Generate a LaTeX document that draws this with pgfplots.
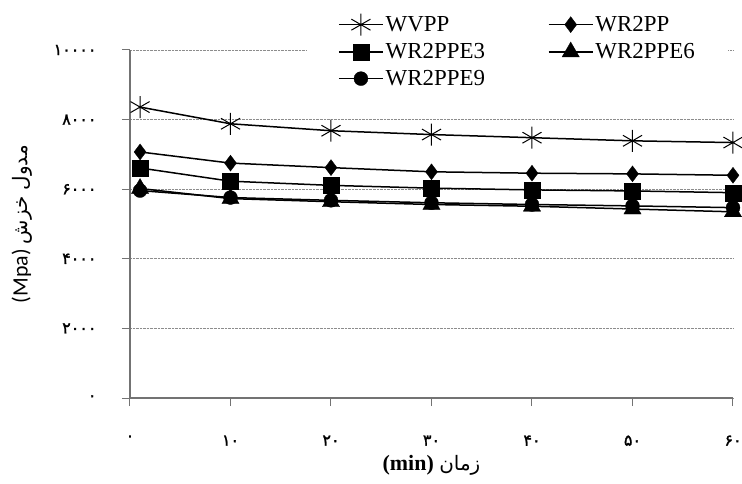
\documentclass[border=0pt]{standalone}
\usepackage{pgfplots}
\pgfplotsset{compat=1.18}
\usepackage{fontspec}
\setmainfont{Liberation Serif}
\newfontfamily\arabicfont[Script=Arabic]{DejaVu Sans}
\newfontfamily\digitfont[Script=Arabic,FakeBold=1.5]{DejaVu Sans}
\newfontfamily\labelfont{Carlito}
\TeXXeTstate=1
\begin{document}
\begin{tikzpicture}
\begin{axis}[
  at={(0,0)}, anchor=south west,
  scale only axis, width=603bp, height=348bp,
  xmin=0, xmax=60, ymin=0, ymax=10000,
  clip=false,
  axis x line=bottom, axis y line=left,
  axis line style={-, draw=black!55, line width=1.6bp},
  xtick={0,10,20,30,40,50,60},
  xticklabels={۰,۱۰,۲۰,۳۰,۴۰,۵۰,۶۰},
  ytick={0,2000,4000,6000,8000,10000},
  yticklabels={۰,۲۰۰۰,۴۰۰۰,۶۰۰۰,۸۰۰۰,۱۰۰۰۰},
  scaled y ticks=false,
  ticklabel style={font=\digitfont\fontsize{16}{18}\selectfont},
  xticklabel style={yshift=-26bp},
  yticklabel style={xshift=-22bp},
  tick align=outside, major tick length=8bp,
  tick style={draw=black!55, line width=1bp},
  ymajorgrids,
  grid style={densely dotted, black!45, line width=0.9bp},
  xlabel={{\bfseries (min)} {\arabicfont\fontsize{20}{22}\selectfont\beginR زمان\endR}},
  xlabel style={at={(axis description cs:0.5,-0.193)}, anchor=center, font=\fontsize{22}{24}\selectfont},
  ylabel={{\labelfont (Mpa)} {\arabicfont\fontsize{20}{22}\selectfont\beginR مدول خزش\endR}},
  ylabel style={at={(axis description cs:-0.179,0.5)}, anchor=center, font=\labelfont\fontsize{22}{24}\selectfont},
  legend columns=2,
  legend style={at={(axis description cs:0.2935,1.105)}, anchor=north west,
    draw=none, fill=white, inner xsep=31bp, inner ysep=0bp,
    font=\fontsize{23}{26}\selectfont, row sep=6bp,
    /tikz/every even column/.append style={column sep=61bp},
    cells={anchor=west}},
  legend image code/.code={\draw[mark repeat=2,mark phase=2,#1] plot coordinates {(0bp,0bp) (22bp,0bp) (44bp,0bp)};},
]
\addplot[black, line width=1.5bp, mark=asterisk, mark size=11bp, mark options={line width=1bp}]
  coordinates {(1,8360) (10,7880) (20,7680) (30,7570) (40,7480) (50,7390) (60,7340)};
\addlegendentry{WVPP}
\addplot[black, line width=1.5bp, mark=diamond*, mark size=8bp, mark options={line width=0.3bp}]
  coordinates {(1,7070) (10,6750) (20,6620) (30,6500) (40,6460) (50,6440) (60,6400)};
\addlegendentry{WR2PP}
\addplot[black, line width=1.5bp, mark=square*, mark size=8bp, mark options={line width=0.3bp}]
  coordinates {(1,6610) (10,6230) (20,6110) (30,6030) (40,5980) (50,5950) (60,5900)};
\addlegendentry{WR2PPE3}
\addplot[black, line width=1.5bp, mark=triangle*, mark size=10bp, mark options={line width=0.3bp}]
  coordinates {(1,6020) (10,5730) (20,5640) (30,5560) (40,5510) (50,5430) (60,5350)};
\addlegendentry{WR2PPE6}
\addplot[black, line width=1.5bp, mark=*, mark size=7bp, mark options={line width=0.3bp}]
  coordinates {(1,5960) (10,5760) (20,5680) (30,5610) (40,5560) (50,5520) (60,5470)};
\addlegendentry{WR2PPE9}
\end{axis}
\pgfresetboundingbox
\path[use as bounding box] (-130bp,-86bp) rectangle (612bp,398bp);
\end{tikzpicture}
\end{document}
